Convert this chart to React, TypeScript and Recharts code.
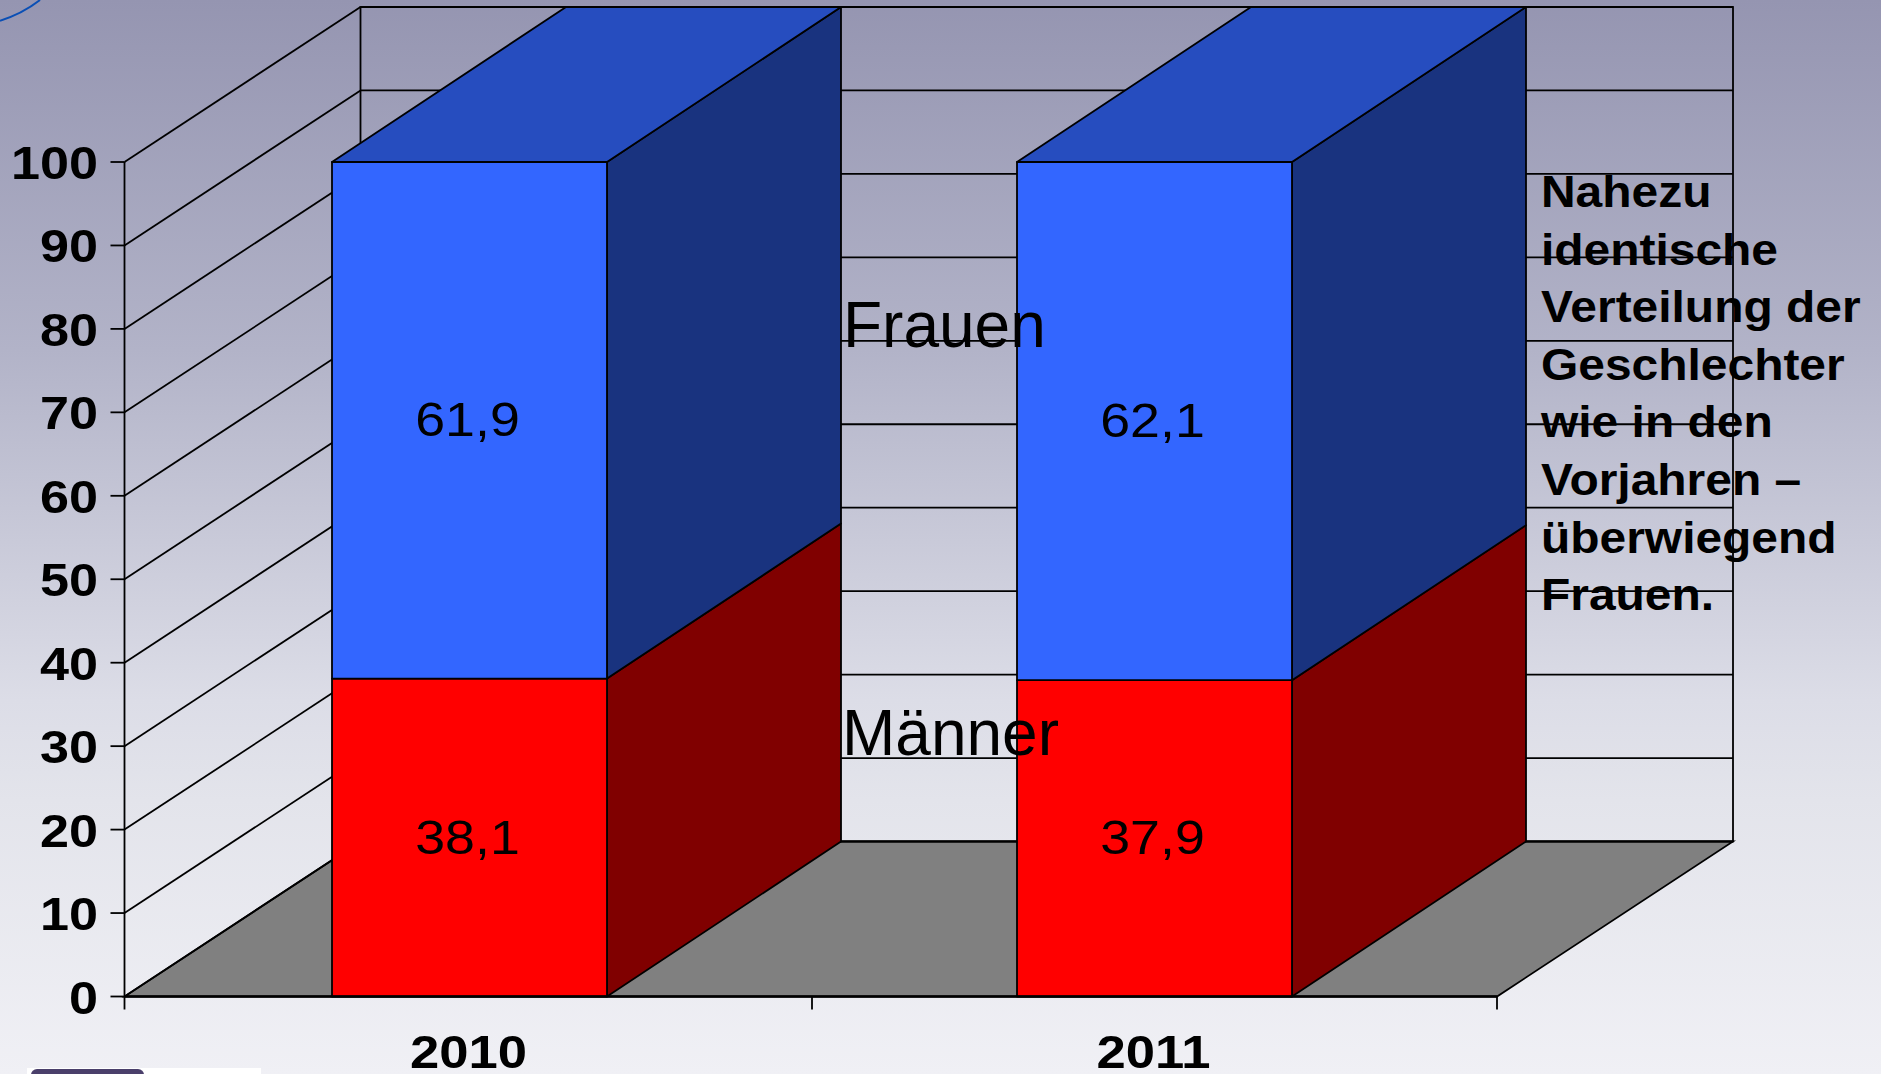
import { BarChart, Bar, XAxis, YAxis, CartesianGrid, LabelList } from 'recharts'

const years = ['2010', '2011']
const maenner = [38.1, 37.9]
const frauen = [61.9, 62.1]
const yTicks = [0, 10, 20, 30, 40, 50, 60, 70, 80, 90, 100]
const noteLines = ['Nahezu', 'identische', 'Verteilung der', 'Geschlechter', 'wie in den', 'Vorjahren –', 'überwiegend', 'Frauen.']

const rows = years.map((year, i) => ({ year, maenner: maenner[i], frauen: frauen[i] }))

const WIDTH = 1881
const HEIGHT = 1074
const PLOT_LEFT = 124.5
const PLOT_RIGHT = 1497
const PLOT_TOP = 162
const PLOT_BOTTOM = 996.5
// offset of the back plane, faked 3D like the old PowerPoint chart
const DEPTH_X = 236
const DEPTH_Y = 155
const LINE = '#000'
const LINE_W = 1.8

function GridLine(props: any) {
    const { y1, index } = props
    const isFloor = y1 >= PLOT_BOTTOM - 1
    const backY = y1 - DEPTH_Y
    const backLeft = PLOT_LEFT + DEPTH_X
    const backRight = PLOT_RIGHT + DEPTH_X
    return (
        <g key={index}>
            {isFloor && (
                <>
                    <rect x={backLeft} y={PLOT_TOP - DEPTH_Y} width={PLOT_RIGHT - PLOT_LEFT} height={PLOT_BOTTOM - PLOT_TOP} fill="none" stroke={LINE} strokeWidth={LINE_W} />
                    <polygon
                        points={`${PLOT_LEFT},${PLOT_BOTTOM} ${PLOT_RIGHT},${PLOT_BOTTOM} ${backRight},${backY} ${backLeft},${backY}`}
                        fill="#808080"
                        stroke={LINE}
                        strokeWidth={LINE_W}
                    />
                </>
            )}
            <line x1={PLOT_LEFT} y1={y1} x2={backLeft} y2={backY} stroke={LINE} strokeWidth={LINE_W} />
            <line x1={backLeft} y1={backY} x2={backRight} y2={backY} stroke={LINE} strokeWidth={LINE_W} />
        </g>
    )
}

function Box3D(props: any) {
    const { x, y, width, height, fill, sideFill, topFill } = props
    const right = x + width
    const bottom = y + height
    return (
        <g stroke={LINE} strokeWidth={LINE_W} strokeLinejoin="round">
            <polygon
                points={`${right},${y} ${right + DEPTH_X - 2},${y - DEPTH_Y} ${right + DEPTH_X - 2},${bottom - DEPTH_Y} ${right},${bottom}`}
                fill={sideFill}
            />
            {topFill && (
                <polygon
                    points={`${x},${y} ${right},${y} ${right + DEPTH_X - 2},${y - DEPTH_Y} ${x + DEPTH_X - 2},${y - DEPTH_Y}`}
                    fill={topFill}
                />
            )}
            <rect x={x} y={y} width={width} height={height} fill={fill} />
        </g>
    )
}

function YTick({ y, payload }: any) {
    return (
        <text
            transform={`translate(98,${y + 17}) scale(1.11,1)`}
            textAnchor="end"
            fontFamily="Liberation Sans"
            fontWeight="bold"
            fontSize={47}
            fill="#000"
        >
            {payload.value}
        </text>
    )
}

function XTick({ x, payload, index }: any) {
    const marks = index === 0 ? [PLOT_LEFT, 812] : [PLOT_RIGHT]
    return (
        <g>
            {marks.map((m) => (
                <line key={m} x1={m} y1={PLOT_BOTTOM} x2={m} y2={PLOT_BOTTOM + 13} stroke={LINE} strokeWidth={LINE_W} />
            ))}
            <text
                transform={`translate(${x - 1},${PLOT_BOTTOM + 71.5}) scale(1.12,1)`}
                textAnchor="middle"
                fontFamily="Liberation Sans"
                fontWeight="bold"
                fontSize={47}
                fill="#000"
            >
                {payload.value}
            </text>
        </g>
    )
}

function ValueLabel({ x, y, width, height, value }: any) {
    return (
        <text
            transform={`translate(${x + width / 2 - 2},${y + height / 2 + 16}) scale(1.12,1)`}
            textAnchor="middle"
            fontFamily="Liberation Sans"
            fontSize={48}
            fill="#000"
        >
            {String(value).replace('.', ',')}
        </text>
    )
}

export default function App() {
    return (
        <div
            style={{
                position: 'absolute',
                left: 0,
                top: 0,
                width: WIDTH,
                height: HEIGHT,
                overflow: 'hidden',
                background: 'linear-gradient(#9595b1 0px, #b2b3c8 350px, #dcdde7 700px, #e3e4eb 800px, #f0f0f5 1074px)',
                fontFamily: 'Liberation Sans',
            }}
        >
            <BarChart
                width={WIDTH}
                height={HEIGHT}
                data={rows}
                barSize={275}
                margin={{ top: PLOT_TOP, right: WIDTH - PLOT_RIGHT, bottom: 0, left: 0 }}
            >
                <CartesianGrid vertical={false} horizontal={GridLine} />
                <XAxis
                    dataKey="year"
                    height={HEIGHT - PLOT_BOTTOM}
                    padding={{ left: 2.5 }}
                    axisLine={{ stroke: LINE, strokeWidth: 2.5 }}
                    tickLine={false}
                    tick={XTick}
                />
                <YAxis
                    width={PLOT_LEFT}
                    domain={[0, 100]}
                    ticks={yTicks}
                    interval={0}
                    tickSize={14}
                    axisLine={{ stroke: LINE, strokeWidth: LINE_W }}
                    tickLine={{ stroke: LINE, strokeWidth: LINE_W }}
                    tick={YTick}
                />
                <Bar
                    dataKey="maenner"
                    name="Männer"
                    stackId="a"
                    fill="#ff0000"
                    isAnimationActive={false}
                    shape={(p: any) => <Box3D {...p} sideFill="#800000" />}
                >
                    <LabelList dataKey="maenner" content={ValueLabel} />
                </Bar>
                <Bar
                    dataKey="frauen"
                    name="Frauen"
                    stackId="a"
                    fill="#3366ff"
                    isAnimationActive={false}
                    shape={(p: any) => <Box3D {...p} sideFill="#19337f" topFill="#264dbf" />}
                >
                    <LabelList dataKey="frauen" content={ValueLabel} />
                </Bar>
            </BarChart>

            {/* slide text on top of the chart */}
            <div style={{ position: 'absolute', left: 843, top: 292.5, fontSize: 64, lineHeight: 1 }}>Frauen</div>
            <div style={{ position: 'absolute', left: 842, top: 701, fontSize: 64, lineHeight: 1 }}>Männer</div>
            <div
                style={{
                    position: 'absolute',
                    left: 1541,
                    top: 163,
                    fontSize: 45,
                    fontWeight: 'bold',
                    lineHeight: '57.6px',
                    whiteSpace: 'pre',
                    transform: 'scaleX(1.065)',
                    transformOrigin: 'left top',
                }}
            >
                {noteLines.join('\n')}
            </div>

            {/* bits of the slide template */}
            <svg style={{ position: 'absolute', left: 0, top: 0 }} width={60} height={30}>
                <path d="M0,20.7 Q22,14 40,0" fill="none" stroke="#0a4fb5" strokeWidth={2} />
            </svg>
            <div style={{ position: 'absolute', left: 27, top: 1068, width: 234, height: 6, background: '#fff' }} />
            <div style={{ position: 'absolute', left: 31, top: 1069, width: 113, height: 12, borderRadius: 6, background: '#4a3f6b' }} />
        </div>
    )
}
